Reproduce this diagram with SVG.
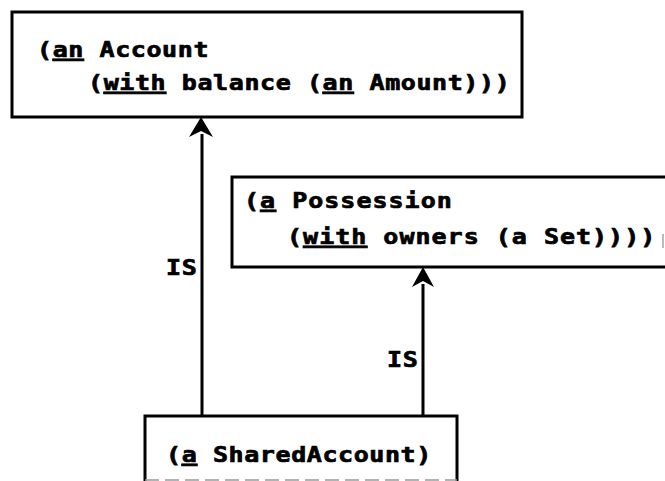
<svg xmlns="http://www.w3.org/2000/svg" width="665" height="481" viewBox="0 0 665 481">
<style>
.box{fill:none;stroke:#000;stroke-width:3;stroke-linejoin:miter}
.t{font-family:"DejaVu Sans Mono","Liberation Mono",monospace;font-weight:bold;font-size:21px;fill:#000;stroke:#000;stroke-width:0.7px;letter-spacing:0.5px}
.t2{letter-spacing:0.85px}
.u{text-decoration:underline}
.edge{fill:none;stroke:#000;stroke-width:3}
</style>
<rect width="665" height="481" fill="#fff"/>
<g id="connectors">
<g id="e1">
<line class="edge" x1="202" y1="416" x2="202" y2="134"/>
<path d="M201,117 L189,137 L201,131 L213,137 Z" fill="#000"/>
<text class="t" transform="translate(166,275) scale(1.19,1)">IS</text>
</g>
<g id="e2">
<line class="edge" x1="423" y1="416" x2="423" y2="284"/>
<path d="M423,267 L412,287 L423,281 L434,287 Z" fill="#000"/>
<text class="t" transform="translate(387,367) scale(1.19,1)">IS</text>
</g>
</g>
<g id="account">
<rect class="box" x="12" y="12" width="510" height="105"/>
<text class="t" transform="translate(37,57) scale(1.19,1)">(<tspan class="u">an</tspan> Account</text>
<text class="t" transform="translate(88,90) scale(1.19,1)">(<tspan class="u">with</tspan> balance (<tspan class="u">an</tspan> Amount)))</text>
</g>
<g id="possession">
<rect class="box" x="232" y="177" width="445" height="90"/>
<text class="t t2" transform="translate(244,208) scale(1.19,1)">(<tspan class="u">a</tspan> Possession</text>
<text class="t t2" transform="translate(287,244) scale(1.19,1)">(<tspan class="u">with</tspan> owners (a Set))))</text>
<line x1="663" y1="234" x2="663" y2="248" stroke="#bbb" stroke-width="2"/>
</g>
<g id="sharedaccount">
<path class="box" d="M145,481 L145,416 L457,416 L457,481"/>
<line x1="145" y1="480" x2="457" y2="480" stroke="#999" stroke-width="1.5" stroke-dasharray="14 6"/>
<text class="t" transform="translate(166,462) scale(1.19,1)">(<tspan class="u">a</tspan> SharedAccount)</text>
</g>
</svg>
